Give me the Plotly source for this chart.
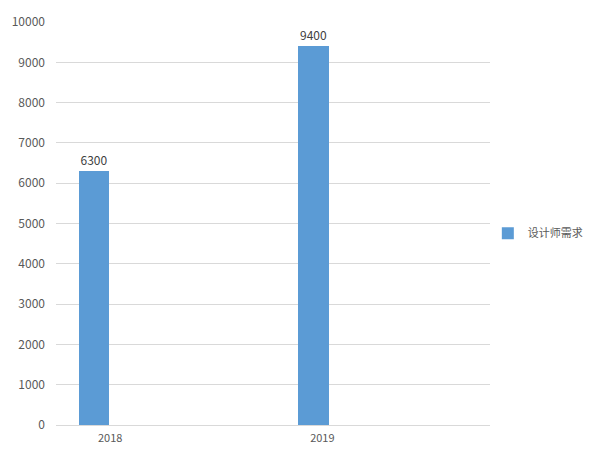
import plotly.graph_objects as go

categories = ["2018", "2019"]
values = [6300, 9400]
series_name = "设计师需求"
y_ticks = [0, 1000, 2000, 3000, 4000, 5000, 6000, 7000, 8000, 9000, 10000]
y_tick_text = [str(v) for v in y_ticks]

fig = go.Figure()
fig.add_trace(go.Bar(
    x=categories, y=values, name=series_name,
    marker=dict(color="#5B9BD5", line=dict(width=0)),
    width=0.143, offset=[-0.146, -0.113],
    text=[str(v) for v in values], textposition="outside",
    textfont=dict(color="#404040", size=12),
    cliponaxis=False,
    showlegend=True,
))

fig.update_layout(
    width=592, height=445,
    margin=dict(l=48, r=110, t=14, b=28, autoexpand=False),
    plot_bgcolor="white", paper_bgcolor="white",
    font=dict(family="Noto Sans CJK SC, DejaVu Sans, sans-serif", color="#595959", size=11),
    bargap=0,
    xaxis=dict(type="category", range=[-0.255, 1.79], showgrid=False, showline=False,
               ticks="", zeroline=False, automargin=False, ticklabelstandoff=5,
               tickfont=dict(size=11, color="#595959")),
    yaxis=dict(range=[0, 10000], tickvals=y_ticks, ticktext=y_tick_text, showgrid=True,
               gridcolor="#D9D9D9", gridwidth=1, zeroline=True, zerolinecolor="#D9D9D9",
               zerolinewidth=1, showline=False, ticks="", ticklabelstandoff=10,
               automargin=False, tickfont=dict(size=12, color="#595959")),
    legend=dict(x=0.995, y=0.476, xanchor="left", yanchor="middle",
                font=dict(size=11, color="#595959"), itemwidth=30, bgcolor="rgba(0,0,0,0)"),
)

fig.write_html("out.html")
